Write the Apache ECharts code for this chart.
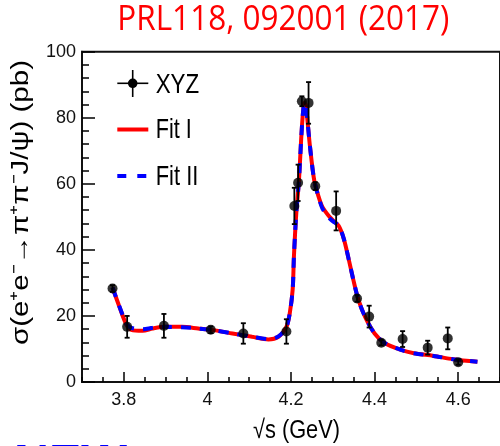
<!DOCTYPE html>
<html><head><meta charset="utf-8">
<script src="https://cdn.jsdelivr.net/npm/echarts@6/dist/echarts.min.js"></script>
<style>html,body{margin:0;padding:0;background:#fff;overflow:hidden}#c{width:500px;height:446px}</style>
</head><body><div id="c"></div>
<script>
// ---- data ----
const xyzE     = [3.773, 3.808, 3.896, 4.008, 4.086, 4.189, 4.208, 4.217, 4.226, 4.242, 4.258, 4.308, 4.358, 4.387, 4.416, 4.467, 4.527, 4.575, 4.600];
const xyzSigma = [28.3, 16.7, 17.0, 15.8, 14.7, 15.3, 53.3, 60.3, 85.0, 84.5, 59.3, 51.8, 25.3, 19.8, 11.9, 13.0, 10.4, 13.2, 6.0];
const xyzErr   = [1.0, 3.3, 3.6, 1.0, 3.1, 3.7, 5.5, 5.5, 1.5, 6.3, 1.2, 5.9, 1.0, 3.3, 0.8, 2.4, 2.1, 3.3, 0.8];

const fitE   = [3.773, 3.790, 3.806, 3.818, 3.845, 3.869, 3.900, 3.939, 3.978, 4.013, 4.060, 4.107, 4.146, 4.170, 4.189, 4.197, 4.204, 4.207, 4.2126, 4.219, 4.225, 4.229, 4.232, 4.235, 4.238, 4.2455, 4.2555, 4.266, 4.275, 4.290, 4.300, 4.314, 4.326, 4.338, 4.349, 4.361, 4.377, 4.400, 4.424, 4.463, 4.494, 4.541, 4.588, 4.646];
const fitI   = [28.6, 22.6, 17.4, 15.8, 15.5, 16.2, 16.7, 16.7, 16.2, 15.7, 14.7, 13.7, 12.9, 13.7, 16.7, 20.8, 28.0, 38.0, 51.0, 61.0, 75.0, 82.0, 84.5, 84.0, 81.0, 71.2, 61.1, 56.1, 53.0, 50.3, 49.0, 47.3, 43.5, 37.2, 31.0, 25.0, 19.8, 14.7, 11.8, 9.7, 8.7, 7.9, 6.9, 6.1];
const fitII  = [28.6, 22.7, 17.8, 16.4, 16.0, 16.4, 16.7, 16.6, 16.2, 15.7, 14.7, 13.7, 13.0, 13.8, 16.7, 20.8, 28.0, 38.0, 51.0, 61.0, 75.0, 82.0, 84.5, 84.0, 81.0, 71.2, 61.1, 56.0, 52.6, 49.8, 48.7, 47.3, 43.5, 37.2, 31.0, 25.0, 19.8, 14.7, 11.8, 9.7, 8.7, 7.9, 6.9, 6.1];

const xMajorTicks = [3.8, 4.0, 4.2, 4.4, 4.6];
const xMinorTicks = [3.7, 3.75, 3.8, 3.85, 3.9, 3.95, 4.0, 4.05, 4.1, 4.15, 4.2, 4.25, 4.3, 4.35, 4.4, 4.45, 4.5, 4.55, 4.6, 4.65, 4.7];
const yTickStep = 20;

const titleText = 'PRL118, 092001 (2017)';
const xTitle = '\u221As (GeV)';
const yTitle = '\u03C3(e\u207Ae\u207B\u2192\u03C0\u207A\u03C0\u207BJ/\u03C8) (pb)';
const legendNames = ['XYZ', 'Fit I', 'Fit II'];

// ---- helpers ----
const mctx = document.createElement('canvas').getContext('2d');
function textScale(text, font, target) { mctx.font = font; return target / mctx.measureText(text).width; }
const FF = '"Liberation Sans", Arial, sans-serif';

function txt(text, x, y, size, target, opts) {
  opts = opts || {};
  const font = (opts.weight ? opts.weight + ' ' : '') + size + 'px ' + (opts.family || FF);
  const s = target ? textScale(text, font, target) : 1;
  return {
    type: 'text', x: x, y: y, rotation: opts.rotation || 0,
    scaleX: s, scaleY: opts.scaleY || 1, z: 10,
    style: { text: text, font: font, fill: opts.color || '#000',
      align: opts.align || 'left', textAlign: opts.align || 'left',
      verticalAlign: 'middle', textVerticalAlign: 'middle' }
  };
}

const chart = echarts.init(document.getElementById('c'), null, { renderer: 'canvas' });

const tickStyle = { color: '#000', width: 1.5 };

const option = {
  animation: false,
  backgroundColor: '#fff',
  grid: { left: 82, top: 51.7, width: 427, height: 330.3, show: true, borderColor: '#111', borderWidth: 2, backgroundColor: 'transparent' },
  xAxis: [{
    type: 'value', min: 3.7, max: 4.7,
    axisLine: { show: true, onZero: false, lineStyle: { color: '#111', width: 2 } },
    axisTick: { show: true, inside: true, length: 10, customValues: xMajorTicks, lineStyle: tickStyle },
    axisLabel: { customValues: xMajorTicks, formatter: v => String(+(+v).toFixed(1)), fontFamily: FF, fontSize: 18, color: '#111', margin: 9 },
    splitLine: { show: false }
  }, {
    type: 'value', min: 3.7, max: 4.7, position: 'bottom',
    axisLine: { show: false },
    axisTick: { show: true, inside: true, length: 5, customValues: xMinorTicks, lineStyle: tickStyle },
    axisLabel: { show: false },
    splitLine: { show: false }
  }],
  yAxis: {
    type: 'value', min: 0, max: 100, interval: yTickStep,
    axisLine: { show: true, onZero: false, lineStyle: { color: '#111', width: 2 } },
    axisTick: { show: true, inside: true, length: 13, lineStyle: tickStyle },
    minorTick: { show: true, splitNumber: 5, length: 7, lineStyle: tickStyle },
    axisLabel: { fontFamily: FF, fontSize: 18, color: '#111', margin: 6 },
    splitLine: { show: false }
  },
  series: [{
    name: legendNames[1], type: 'line', xAxisIndex: 0, showSymbol: false, symbol: 'none',
    smooth: 0.3, z: 2,
    lineStyle: { color: '#ff0000', width: 4 },
    data: fitE.map((x, i) => [x, fitI[i]])
  }, {
    name: legendNames[2], type: 'line', xAxisIndex: 0, showSymbol: false, symbol: 'none',
    smooth: 0.3, z: 3,
    lineStyle: { color: '#0000ff', width: 4, type: [10, 9] },
    data: fitE.map((x, i) => [x, fitII[i]])
  }, {
    name: legendNames[0] + ' errors', type: 'custom', xAxisIndex: 0, z: 4,
    encode: { x: 0, y: 1 },
    data: xyzE.map((x, i) => [x, xyzSigma[i], xyzErr[i]]),
    renderItem: function (params, api) {
      const x = api.value(0), y = api.value(1), e = api.value(2);
      const t = api.coord([x, y + e]), b = api.coord([x, y - e]);
      const hw = 2.5, st = { stroke: '#000', lineWidth: 1.8 };
      return { type: 'group', children: [
        { type: 'line', shape: { x1: t[0], y1: t[1], x2: b[0], y2: b[1] }, style: st },
        { type: 'line', shape: { x1: t[0] - hw, y1: t[1], x2: t[0] + hw, y2: t[1] }, style: st },
        { type: 'line', shape: { x1: b[0] - hw, y1: b[1], x2: b[0] + hw, y2: b[1] }, style: st }
      ]};
    }
  }, {
    name: legendNames[0], type: 'scatter', xAxisIndex: 0, z: 5,
    symbol: 'circle', symbolSize: 10,
    itemStyle: { color: '#000' },
    data: xyzE.map((x, i) => [x, xyzSigma[i]])
  }],
  graphic: [
    txt(titleText, 283.3, 20, 34, 332, { family: '"Open Sans", "Noto Sans", sans-serif', color: '#ff0000', align: 'center' }),
    // legend
    { type: 'line', shape: { x1: 117.3, y1: 83.3, x2: 148.3, y2: 83.3 }, style: { stroke: '#000', lineWidth: 1.6 }, z: 10 },
    { type: 'line', shape: { x1: 132.7, y1: 70, x2: 132.7, y2: 97 }, style: { stroke: '#000', lineWidth: 1.6 }, z: 10 },
    { type: 'circle', shape: { cx: 132.7, cy: 83.3, r: 4.8 }, style: { fill: '#000' }, z: 10 },
    { type: 'line', shape: { x1: 117.3, y1: 129.5, x2: 148.3, y2: 129.5 }, style: { stroke: '#ff0000', lineWidth: 4 }, z: 10 },
    { type: 'line', shape: { x1: 117.3, y1: 176, x2: 148.3, y2: 176 }, style: { stroke: '#0000ff', lineWidth: 4, lineDash: [9, 11] }, z: 10 },
    txt(legendNames[0], 155.7, 85, 28, 43.5),
    txt(legendNames[1], 155.7, 130.3, 28, 36),
    txt(legendNames[2], 155.7, 177, 28, 42.6),
    // axis titles
    txt(xTitle, 296.5, 431, 26, 87, { align: 'center' }),
    txt(yTitle, 21, 202.5, 30, 285, { align: 'center', rotation: Math.PI / 2, scaleY: 0.8 }),
    // cut-off blue word at bottom-left
    txt('NEW', 14, 465, 48, 113, { weight: 'bold', color: '#0000ff' })
  ]
};
chart.setOption(option);
</script>
</body></html>
